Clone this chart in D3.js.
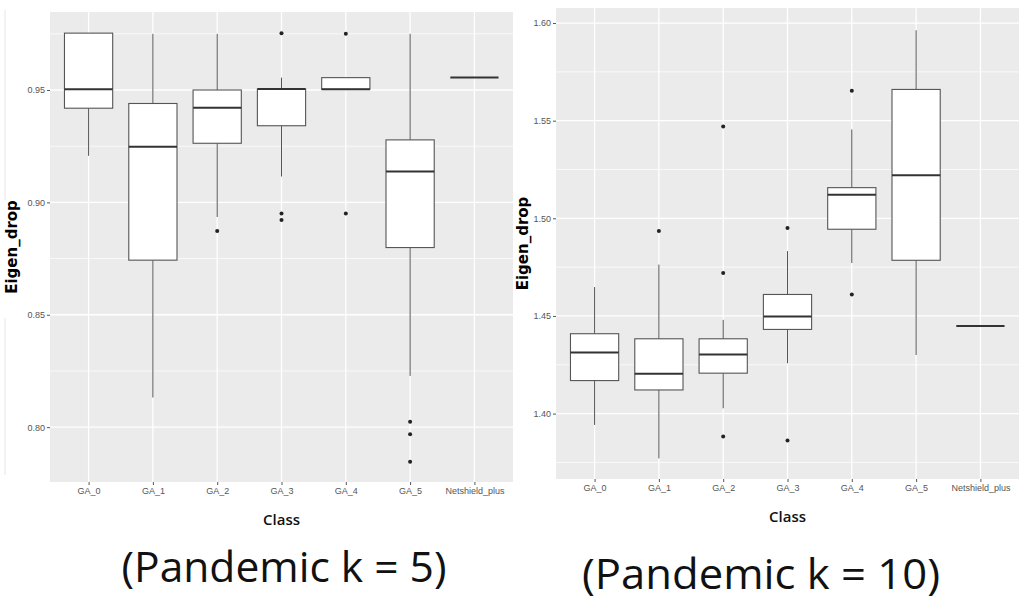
<!DOCTYPE html>
<html>
<head>
<meta charset="utf-8">
<script src="https://cdn.jsdelivr.net/npm/d3@7"></script>
<style>
    body { margin: 0; background: #fff; }
    svg { display: block; }
    .tick text { fill: #555; font-family: "Liberation Sans", Arial, sans-serif; font-size: 9px; }
    .tick line { stroke: #555; }
</style>
</head>
<body>
<div id="chart"></div>
<script>
// Classes shared by both panels
const categories = ['GA_0', 'GA_1', 'GA_2', 'GA_3', 'GA_4', 'GA_5', 'Netshield_plus'];

// Pandemic k = 5 box stats
const k5Low  = [0.9207, 0.8132, 0.8935, 0.9115, 0.9503, 0.8228, 0.9556];
const k5Q1   = [0.9419, 0.8743, 0.9263, 0.9341, 0.9503, 0.8799, 0.9556];
const k5Med  = [0.9503, 0.9248, 0.9421, 0.9504, 0.9503, 0.9137, 0.9556];
const k5Q3   = [0.9753, 0.9440, 0.9500, 0.9504, 0.9555, 0.9278, 0.9556];
const k5High = [0.9753, 0.9750, 0.9750, 0.9555, 0.9555, 0.9750, 0.9556];
const k5Out  = [[], [], [0.8873], [0.9752, 0.8950, 0.8922], [0.9750, 0.8950], [0.8024, 0.7968, 0.7846], []];
const k5Ticks = [0.80, 0.85, 0.90, 0.95];

// Pandemic k = 10 box stats
const k10Low  = [1.3942, 1.3771, 1.4027, 1.4258, 1.4771, 1.4300, 1.4448];
const k10Q1   = [1.4169, 1.4121, 1.4207, 1.4431, 1.4944, 1.4785, 1.4448];
const k10Med  = [1.4313, 1.4204, 1.4303, 1.4497, 1.5121, 1.5220, 1.4448];
const k10Q3   = [1.4409, 1.4383, 1.4383, 1.4610, 1.5157, 1.5660, 1.4448];
const k10High = [1.4648, 1.4763, 1.4480, 1.4832, 1.5455, 1.5963, 1.4448];
const k10Out  = [[], [1.4935], [1.5470, 1.4720, 1.3883], [1.4950, 1.3862], [1.5653, 1.4610], [], []];
const k10Ticks = [1.40, 1.45, 1.50, 1.55, 1.60];

const svg = d3.select('#chart')
    .append('svg')
    .attr('width', 1020)
    .attr('height', 603);

function drawPanel(opts) {
    const { left, right, top, bottom, domain, ticks, low, q1, med, q3, high, out } = opts;

    const x = d3.scalePoint()
        .domain(categories)
        .range([left, right])
        .padding(0.6);

    const y = d3.scaleLinear()
        .domain(domain)
        .range([bottom, top]);

    const g = svg.append('g');

    // Panel background
    g.append('rect')
        .attr('x', left).attr('y', top)
        .attr('width', right - left).attr('height', bottom - top)
        .attr('fill', '#ebebeb');

    // Minor grid (midpoints between major ticks)
    const step = ticks[1] - ticks[0];
    const minor = [ticks[0] - step / 2].concat(ticks.map(t => t + step / 2))
        .filter(v => v > domain[0] && v < domain[1]);
    g.selectAll('.minor')
        .data(minor)
        .enter()
        .append('line')
        .attr('x1', left).attr('x2', right)
        .attr('y1', d => y(d)).attr('y2', d => y(d))
        .attr('stroke', '#fff').attr('stroke-width', 0.7);

    // Major grid
    g.selectAll('.major')
        .data(ticks)
        .enter()
        .append('line')
        .attr('x1', left).attr('x2', right)
        .attr('y1', d => y(d)).attr('y2', d => y(d))
        .attr('stroke', '#fff').attr('stroke-width', 1.3);

    g.selectAll('.vgrid')
        .data(categories)
        .enter()
        .append('line')
        .attr('x1', d => x(d)).attr('x2', d => x(d))
        .attr('y1', top).attr('y2', bottom)
        .attr('stroke', '#fff').attr('stroke-width', 1.3);

    const bw = x.step() * 0.75;

    const boxes = g.selectAll('.box')
        .data(categories)
        .enter()
        .append('g')
        .attr('class', 'box');

    // Whiskers
    boxes.append('line')
        .attr('x1', d => x(d)).attr('x2', d => x(d))
        .attr('y1', (d, i) => y(high[i])).attr('y2', (d, i) => y(q3[i]))
        .attr('stroke', '#555').attr('stroke-width', 1);
    boxes.append('line')
        .attr('x1', d => x(d)).attr('x2', d => x(d))
        .attr('y1', (d, i) => y(q1[i])).attr('y2', (d, i) => y(low[i]))
        .attr('stroke', '#555').attr('stroke-width', 1);

    // Box body
    boxes.filter((d, i) => q3[i] > q1[i])
        .append('rect')
        .attr('x', d => x(d) - bw / 2)
        .attr('y', (d, i) => y(q3[i]))
        .attr('width', bw)
        .attr('height', (d, i) => y(q1[i]) - y(q3[i]))
        .attr('fill', '#fff')
        .attr('stroke', '#555')
        .attr('stroke-width', 1.1);

    // Median
    boxes.append('line')
        .attr('x1', d => x(d) - bw / 2).attr('x2', d => x(d) + bw / 2)
        .attr('y1', (d, i) => y(med[i])).attr('y2', (d, i) => y(med[i]))
        .attr('stroke', '#333').attr('stroke-width', 2);

    // Outliers
    const pts = [];
    categories.forEach((c, i) => out[i].forEach(v => pts.push({ c, v })));
    g.selectAll('.out')
        .data(pts)
        .enter()
        .append('circle')
        .attr('cx', d => x(d.c))
        .attr('cy', d => y(d.v))
        .attr('r', 2)
        .attr('fill', '#222');

    // Axes
    const yAxis = g.append('g')
        .attr('transform', `translate(${left},0)`)
        .call(d3.axisLeft(y).tickValues(ticks).tickFormat(d3.format('.2f')).tickSize(3).tickPadding(2));
    yAxis.select('.domain').remove();

    const xAxis = g.append('g')
        .attr('transform', `translate(0,${bottom})`)
        .call(d3.axisBottom(x).tickSize(3).tickPadding(3));
    xAxis.select('.domain').remove();

    // Axis titles
    g.append('text')
        .attr('transform', `translate(${opts.yTitleX},${(top + bottom) / 2}) rotate(-90)`)
        .attr('text-anchor', 'middle')
        .attr('font-family', '"DejaVu Sans", sans-serif')
        .attr('font-weight', 'bold')
        .attr('font-size', 15)
        .text('Eigen_drop');

    g.append('text')
        .attr('x', (x(categories[0]) + x(categories[categories.length - 1])) / 2)
        .attr('y', opts.xTitleY)
        .attr('text-anchor', 'middle')
        .attr('font-family', '"Open Sans", sans-serif')
        .attr('font-weight', 600)
        .attr('font-size', 15)
        .attr('fill', '#111')
        .text('Class');

    // Caption
    g.append('text')
        .attr('x', opts.captionX)
        .attr('y', opts.captionY)
        .attr('text-anchor', 'middle')
        .attr('font-family', '"Open Sans", sans-serif')
        .attr('font-size', 42)
        .attr('fill', '#111')
        .attr('textLength', opts.captionW)
        .attr('lengthAdjust', 'spacingAndGlyphs')
        .text(opts.caption);
}

// Faint frame line left of the first panel
svg.append('line').attr('x1', 5).attr('x2', 5).attr('y1', 10).attr('y2', 200)
    .attr('stroke', '#e6e6e6');
svg.append('line').attr('x1', 5).attr('x2', 5).attr('y1', 318).attr('y2', 475)
    .attr('stroke', '#e6e6e6');

drawPanel({
    left: 50, right: 513, top: 12, bottom: 482,
    domain: [0.7756, 0.9847], ticks: k5Ticks,
    low: k5Low, q1: k5Q1, med: k5Med, q3: k5Q3, high: k5High, out: k5Out,
    yTitleX: 17, xTitleY: 525,
    caption: '(Pandemic k = 5)', captionX: 284, captionY: 582, captionW: 325
});

drawPanel({
    left: 556, right: 1019, top: 8, bottom: 479,
    domain: [1.3665, 1.6077], ticks: k10Ticks,
    low: k10Low, q1: k10Q1, med: k10Med, q3: k10Q3, high: k10High, out: k10Out,
    yTitleX: 528, xTitleY: 522,
    caption: '(Pandemic k = 10)', captionX: 761, captionY: 589, captionW: 358
});
</script>
</body>
</html>
